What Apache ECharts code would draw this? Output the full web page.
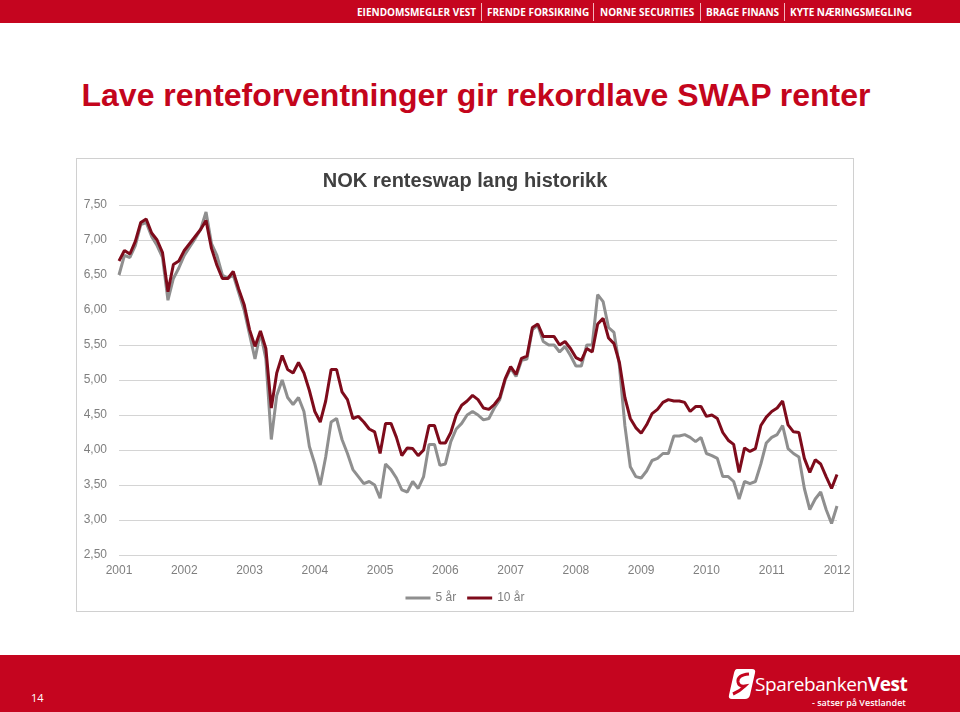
<!DOCTYPE html>
<html>
<head>
<meta charset="utf-8">
<script src="https://cdn.jsdelivr.net/npm/echarts@6/dist/echarts.min.js"></script>
<style>
  body { margin: 0; width: 960px; height: 712px; position: relative; background: #fff; overflow: hidden; font-family: "Liberation Sans", Arial, sans-serif; }
  #topbar { position: absolute; left: 0; top: 0; width: 960px; height: 23px; background: #c5051f; }
  #topbar span { position: absolute; top: 5px; color: #fff; font: bold 10px "Open Sans", sans-serif; line-height: 14px; white-space: nowrap; }
  #topbar i { position: absolute; top: 3px; width: 1px; height: 18px; background: #f3b5bd; }
  #title { position: absolute; left: 0; top: 79px; width: 952px; text-align: center; color: #c4051c; font: bold 32px "Liberation Sans", Arial, sans-serif; line-height: 32px; white-space: nowrap; }
  #box { position: absolute; left: 76px; top: 158px; width: 778px; height: 454px; border: 1px solid #d0d0d0; box-sizing: border-box; }
  #chart { width: 776px; height: 452px; }
  #footer { position: absolute; left: 0; top: 655px; width: 960px; height: 57px; background: #c5051f; }
  #page { position: absolute; left: 31px; top: 35px; color: #fff; font: 11px "Open Sans", sans-serif; }
  #brand { position: absolute; left: 755px; top: 17px; color: #fff; font: 400 19px "Open Sans", sans-serif; line-height: 24px; letter-spacing: -0.4px; white-space: nowrap; }
  #brand b { font-weight: 700; }
  #slogan { position: absolute; left: 812px; top: 41px; color: #fff; font: 600 9px "Open Sans", sans-serif; white-space: nowrap; }
  #logo { position: absolute; left: 728px; top: 12px; }
</style>
</head>
<body>
<div id="topbar">
  <span style="left:357px">EIENDOMSMEGLER VEST</span><i style="left:481px"></i>
  <span style="left:487px">FRENDE FORSIKRING</span><i style="left:593px"></i>
  <span style="left:600px">NORNE SECURITIES</span><i style="left:700px"></i>
  <span style="left:706px">BRAGE FINANS</span><i style="left:784px"></i>
  <span style="left:790px">KYTE NÆRINGSMEGLING</span>
</div>
<div id="title">Lave renteforventninger gir rekordlave SWAP renter</div>
<div id="box"><div id="chart"></div></div>
<div id="footer">
  <div id="page">14</div>
  <svg id="logo" width="28" height="34" viewBox="0 0 28 34">
    <path d="M9 2 L24 2 Q28 2 27 6 L22 28 Q21 32 17 32 L4 32 Q0 32 1 28 L6 6 Q7 2 9 2 Z" fill="#fff"/>
    <path d="M21 7 Q9 8 10 15 Q11 20 17 19 Q12 24 5 27" fill="none" stroke="#c5051f" stroke-width="3"/>
  </svg>
  <div id="brand">Sparebanken<b>Vest</b></div>
  <div id="slogan">- satser på Vestlandet</div>
</div>
<script>
  // månedlige observasjoner, første dag i måneden
  const months = [
    '2001-01', '2001-02', '2001-03', '2001-04', '2001-05', '2001-06', '2001-07', '2001-08', '2001-09', '2001-10', '2001-11', '2001-12',
    '2002-01', '2002-02', '2002-03', '2002-04', '2002-05', '2002-06', '2002-07', '2002-08', '2002-09', '2002-10', '2002-11', '2002-12',
    '2003-01', '2003-02', '2003-03', '2003-04', '2003-05', '2003-06', '2003-07', '2003-08', '2003-09', '2003-10', '2003-11', '2003-12',
    '2004-01', '2004-02', '2004-03', '2004-04', '2004-05', '2004-06', '2004-07', '2004-08', '2004-09', '2004-10', '2004-11', '2004-12',
    '2005-01', '2005-02', '2005-03', '2005-04', '2005-05', '2005-06', '2005-07', '2005-08', '2005-09', '2005-10', '2005-11', '2005-12',
    '2006-01', '2006-02', '2006-03', '2006-04', '2006-05', '2006-06', '2006-07', '2006-08', '2006-09', '2006-10', '2006-11', '2006-12',
    '2007-01', '2007-02', '2007-03', '2007-04', '2007-05', '2007-06', '2007-07', '2007-08', '2007-09', '2007-10', '2007-11', '2007-12',
    '2008-01', '2008-02', '2008-03', '2008-04', '2008-05', '2008-06', '2008-07', '2008-08', '2008-09', '2008-10', '2008-11', '2008-12',
    '2009-01', '2009-02', '2009-03', '2009-04', '2009-05', '2009-06', '2009-07', '2009-08', '2009-09', '2009-10', '2009-11', '2009-12',
    '2010-01', '2010-02', '2010-03', '2010-04', '2010-05', '2010-06', '2010-07', '2010-08', '2010-09', '2010-10', '2010-11', '2010-12',
    '2011-01', '2011-02', '2011-03', '2011-04', '2011-05', '2011-06', '2011-07', '2011-08', '2011-09', '2011-10', '2011-11', '2011-12',
    '2012-01'
  ]

  const swap5 = [
    6.50, 6.78, 6.75, 6.92, 7.22, 7.25, 7.05, 6.92, 6.75, 6.14, 6.45, 6.60,
    6.78, 6.90, 7.02, 7.15, 7.40, 6.95, 6.78, 6.50, 6.45, 6.50, 6.25, 6.00,
    5.65, 5.30, 5.68, 5.30, 4.15, 4.78, 5.00, 4.75, 4.65, 4.75, 4.55, 4.05,
    3.80, 3.50, 3.90, 4.40, 4.45, 4.15, 3.95, 3.72, 3.62, 3.52, 3.55, 3.50,
    3.31, 3.80, 3.72, 3.60, 3.43, 3.40, 3.55, 3.45, 3.62, 4.08, 4.08, 3.78,
    3.80, 4.12, 4.30, 4.38, 4.50, 4.55, 4.50, 4.43, 4.45, 4.60, 4.72, 5.00,
    5.17, 5.05, 5.28, 5.30, 5.72, 5.78, 5.55, 5.50, 5.50, 5.40, 5.48, 5.35,
    5.20, 5.20, 5.50, 5.50, 6.22, 6.12, 5.75, 5.68, 5.20, 4.35, 3.76, 3.62,
    3.60, 3.70, 3.85, 3.88, 3.95, 3.95, 4.20, 4.20, 4.22, 4.18, 4.12, 4.18,
    3.95, 3.92, 3.88, 3.62, 3.62, 3.55, 3.30, 3.55, 3.52, 3.55, 3.80, 4.10,
    4.18, 4.22, 4.35, 4.02, 3.95, 3.90, 3.45, 3.15, 3.30, 3.40, 3.15, 2.95,
    3.20
  ]

  const swap10 = [
    6.70, 6.85, 6.80, 6.98, 7.25, 7.30, 7.10, 7.00, 6.82, 6.26, 6.65, 6.70,
    6.85, 6.95, 7.05, 7.15, 7.28, 6.88, 6.64, 6.45, 6.45, 6.55, 6.30, 6.08,
    5.72, 5.48, 5.70, 5.45, 4.60, 5.10, 5.35, 5.15, 5.10, 5.25, 5.10, 4.85,
    4.55, 4.40, 4.70, 5.15, 5.15, 4.83, 4.72, 4.45, 4.48, 4.40, 4.30, 4.26,
    3.95, 4.38, 4.38, 4.18, 3.92, 4.03, 4.02, 3.92, 4.00, 4.35, 4.35, 4.10,
    4.10, 4.25, 4.50, 4.64, 4.70, 4.78, 4.72, 4.60, 4.58, 4.65, 4.75, 5.02,
    5.19, 5.08, 5.31, 5.34, 5.75, 5.80, 5.62, 5.62, 5.62, 5.50, 5.55, 5.45,
    5.32, 5.28, 5.45, 5.40, 5.80, 5.88, 5.60, 5.52, 5.25, 4.75, 4.45, 4.32,
    4.24, 4.36, 4.52, 4.58, 4.68, 4.72, 4.70, 4.70, 4.68, 4.55, 4.62, 4.62,
    4.48, 4.50, 4.45, 4.25, 4.14, 4.08, 3.68, 4.03, 3.98, 4.02, 4.35, 4.47,
    4.55, 4.60, 4.70, 4.36, 4.26, 4.25, 3.88, 3.68, 3.86, 3.80, 3.62, 3.45,
    3.65
  ]

  const seriesNames = ['5 år', '10 år']
  const yearMin = 2001
  const yearMax = 2012

  // 'YYYY-MM' -> desimalår
  function toYear (m) {
    const p = m.split('-')
    return Number(p[0]) + (Number(p[1]) - 1) / 12
  }

  function pairs (values) {
    return values.map(function (v, i) { return [toYear(months[i]), v] })
  }

  const chart = echarts.init(document.getElementById('chart'))
  const font = '"Liberation Sans", Arial, sans-serif'

  const option = {
    animation: false,
    title: {
      text: 'NOK renteswap lang historikk',
      left: 'center',
      top: 7,
      textStyle: { fontFamily: font, fontSize: 20, fontWeight: 'bold', color: '#404040' }
    },
    legend: {
      data: seriesNames,
      left: 'center',
      top: 428,
      icon: 'rect',
      itemWidth: 25,
      itemHeight: 3,
      itemGap: 11,
      textStyle: { fontFamily: font, fontSize: 12, color: '#7f7f7f' }
    },
    grid: {
      left: 42,
      top: 46,
      width: 718,
      height: 350,
      outerBoundsMode: 'none'
    },
    xAxis: {
      type: 'value',
      min: yearMin,
      max: yearMax,
      interval: 1,
      axisLine: { show: false },
      axisTick: { show: false },
      splitLine: { show: false },
      axisLabel: {
        margin: 10,
        fontFamily: font,
        fontSize: 12,
        color: '#7f7f7f',
        formatter: function (v) { return String(v) }
      }
    },
    yAxis: {
      type: 'value',
      min: 2.5,
      max: 7.5,
      interval: 0.5,
      axisLine: { show: false },
      axisTick: { show: false },
      splitLine: { lineStyle: { color: '#d4d4d4', width: 1 } },
      axisLabel: {
        margin: 12,
        fontFamily: font,
        fontSize: 12,
        color: '#7f7f7f',
        formatter: function (v) { return v.toFixed(2).replace('.', ',') }
      }
    },
    series: [
      {
        name: seriesNames[0],
        type: 'line',
        data: pairs(swap5),
        showSymbol: false,
        lineStyle: { color: '#8f8f8f', width: 3 },
        itemStyle: { color: '#8f8f8f' }
      },
      {
        name: seriesNames[1],
        type: 'line',
        data: pairs(swap10),
        showSymbol: false,
        lineStyle: { color: '#7e0b1b', width: 3 },
        itemStyle: { color: '#7e0b1b' }
      }
    ]
  }

  chart.setOption(option)
</script>
</body>
</html>
